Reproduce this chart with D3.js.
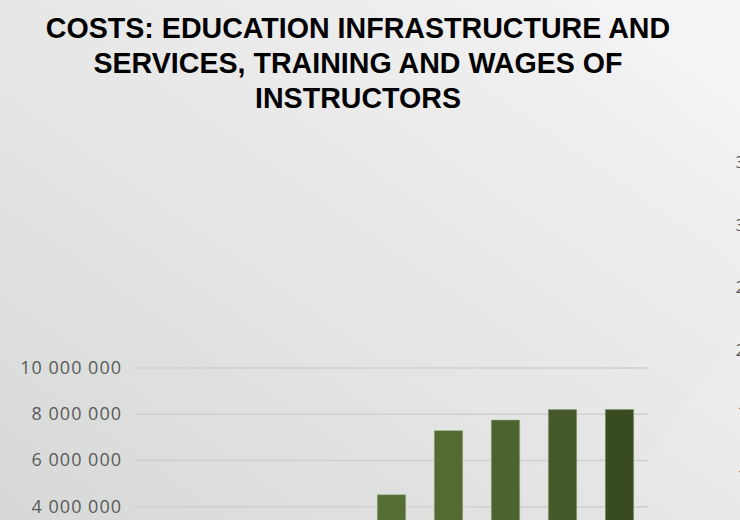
<!DOCTYPE html>
<html><head><meta charset="utf-8">
<script src="https://cdn.jsdelivr.net/npm/d3@7"></script>
<style>html,body{margin:0;padding:0;overflow:hidden;background:#e6e7e6}</style>
</head><body>
<svg id="c" width="740" height="520"></svg>
<script>
const titleLines = ["COSTS: EDUCATION INFRASTRUCTURE AND", "SERVICES, TRAINING AND WAGES OF", "INSTRUCTORS"];
const categories = ["Y1","Y2","Y3","Y4","Y5","Y6","Y7","Y8","Y9"];
const values = [1200000, 1900000, 2600000, 3100000, 4500000, 7270000, 7730000, 8190000, 8190000];
const barColors = ["#6f8c45","#6a8641","#647f3d","#5e7839","#566e34","#536a32","#4d632f","#45592a","#384b21"];
const yTicks = [0, 2000000, 4000000, 6000000, 8000000, 10000000];
const rightTicks = [35, 30, 25, 20, 15, 10];

const svg = d3.select("#c");
const defs = svg.append("defs");
const bg = defs.append("linearGradient").attr("id","bg").attr("x1","0").attr("y1","1").attr("x2","1").attr("y2","0");
bg.append("stop").attr("offset","0").attr("stop-color","#d6d9d7");
bg.append("stop").attr("offset","0.5").attr("stop-color","#e6e7e6");
bg.append("stop").attr("offset","1").attr("stop-color","#f5f5f5");
svg.append("rect").attr("width",740).attr("height",520).attr("fill","url(#bg)");
svg.append("path").attr("d","M600,520 L740,330 L740,520 Z").attr("fill","#ffffff").attr("opacity",0.10);
svg.append("path").attr("d","M420,0 L740,0 L740,160 L560,0 Z").attr("fill","#ffffff").attr("opacity",0.08);

// title
svg.append("g").selectAll("text").data(titleLines).join("text")
  .attr("x", 358).attr("y", (d,i) => 37.5 + i*35.3)
  .attr("text-anchor","middle")
  .attr("font-family","'Liberation Sans', Arial, sans-serif")
  .attr("font-weight","bold").attr("font-size", 28.6).attr("fill","#000")
  .text(d => d);

const x = d3.scaleBand().domain(categories).range([135, 648]).paddingInner(0.5).paddingOuter(0.25);
const y = d3.scaleLinear().domain([0, 10000000]).range([598.8, 367.5]);

const fmt = v => d3.format(",")(v).replace(/,/g, " ");

const yAxis = d3.axisLeft(y).tickValues(yTicks).tickSize(-(648-135)).tickFormat(fmt).tickPadding(13);
const gA = svg.append("g").attr("transform","translate(135,0)").call(yAxis);
gA.select(".domain").remove();
gA.selectAll(".tick line").attr("stroke","#cfd0cf").attr("stroke-width",1.6);
gA.selectAll(".tick text").attr("font-family","'Open Sans', sans-serif").attr("font-size",18)
  .attr("letter-spacing","1px").attr("fill","#5a5a5a");

// bars
svg.append("g").selectAll("rect").data(values).join("rect")
  .attr("x", (d,i) => x(categories[i]))
  .attr("width", x.bandwidth())
  .attr("y", d => y(d))
  .attr("height", d => y(0) - y(d))
  .attr("fill", (d,i) => barColors[i])
  .attr("stroke","#a9b596").attr("stroke-opacity",0.6).attr("stroke-width",0.8);

// partially visible secondary axis at the right edge
const y2 = d3.scaleLinear().domain([10, 35]).range([475, 162]);
svg.append("g").selectAll("text").data(rightTicks).join("text")
  .attr("x", d => d < 20 ? 737.5 : 735.5).attr("y", d => y2(d)).attr("dy","0.35em")
  .attr("font-family","'Open Sans', sans-serif").attr("font-size",17).attr("fill","#5a5a5a")
  .text(d => d);
</script>
</body></html>
